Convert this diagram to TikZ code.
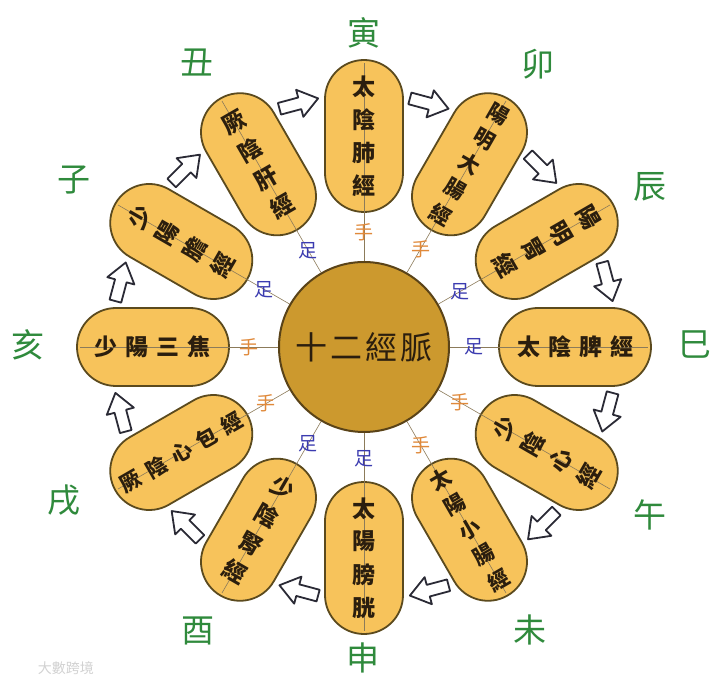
\documentclass[tikz,border=0pt]{standalone}
\usepackage{fontspec}
\newfontfamily\cjk{Noto Sans CJK TC}
\usetikzlibrary{shapes.misc}
\definecolor{petalfill}{HTML}{F7C35B}
\definecolor{petaledge}{HTML}{5B4A1E}
\definecolor{hubfill}{HTML}{CC992E}
\definecolor{hubedge}{HTML}{5A4318}
\definecolor{textdark}{HTML}{2B1E0E}
\definecolor{branchgreen}{HTML}{2F8A3C}
\definecolor{shouorange}{HTML}{E0893A}
\definecolor{zublue}{HTML}{3B3BB0}
\definecolor{arrowedge}{HTML}{2A2A35}
\definecolor{axisgray}{HTML}{8C7B5A}
\definecolor{wmgray}{HTML}{D2D2D2}
% #1 name letter, #2 petal angle, #3 glyph rotation, #4 reading direction,
% #5 spacing, #6 count, #7 chars, #8 glyph size
\newcommand\petalchars[8]{%
  \foreach \c [count=\i] in {#7}{%
    \pgfmathsetmacro\off{(\i-(#6+1)/2)*#5}%
    \node[pchar, font=\cjk\bfseries\fontsize{#8}{#8}\selectfont, rotate=#3]
      (t#1\i) at ([shift={(#2:211)}]#4:\off) {\c};
  }%
}
\begin{document}
\begin{tikzpicture}[x=1pt,y=1pt,
  petal/.style={rounded rectangle, draw=petaledge, fill=petalfill, line width=1.8pt,
    minimum width=152pt, minimum height=78pt, inner sep=0pt},
  hub/.style={circle, draw=hubedge, fill=hubfill, line width=2pt, minimum size=170pt,
    inner sep=0pt, text=textdark, font=\cjk\fontsize{32}{36}\selectfont},
  pchar/.style={inner sep=0pt, text=textdark},
  branch/.style={text=branchgreen, font=\cjk\fontsize{33}{38}\selectfont},
  shou/.style={text=shouorange, inner sep=1pt, font=\cjk\fontsize{19}{22}\selectfont},
  zu/.style={text=zublue, inner sep=1pt, font=\cjk\fontsize{19}{22}\selectfont},
  axis/.style={draw=axisgray, line width=0.6pt},
  flow/.style={draw=arrowedge, fill=white, line width=1.8pt, line join=round}
]
\useasboundingbox[fill=white] (-364,-335) rectangle (356,347);

% hub
\node[hub] (hub) at (0,0) {十\hspace{3pt}二\hspace{3pt}經\hspace{3pt}脈};

% petals
\node[petal, rotate=90]  (pA) at (90:211) {};
\node[petal, rotate=60]  (pB) at (60:211) {};
\node[petal, rotate=30]  (pC) at (30:211) {};
\node[petal, rotate=0]   (pD) at (0:211) {};
\node[petal, rotate=-30] (pE) at (-30:211) {};
\node[petal, rotate=-60] (pF) at (-60:211) {};
\node[petal, rotate=-90] (pG) at (-90:211) {};
\node[petal, rotate=-120] (pH) at (-120:211) {};
\node[petal, rotate=-150] (pI) at (-150:211) {};
\node[petal, rotate=180] (pJ) at (180:211) {};
\node[petal, rotate=150] (pK) at (150:211) {};
\node[petal, rotate=120] (pL) at (120:211) {};

% axis lines from hub through petals
\foreach \a/\n in {90/A,60/B,30/C,0/D,-30/E,-60/F,-90/G,-120/H,-150/I,180/J,150/K,120/L}{
  \coordinate (e\n) at (\a:284);
  \draw[axis] (hub.\a) -- (e\n);
}

% petal texts, one glyph per node
\petalchars{A}{90}{0}{-90}{33}{4}{太,陰,肺,經}{23}
\petalchars{B}{60}{-30}{-120}{29}{5}{陽,明,大,腸,經}{21}
\petalchars{C}{30}{-60}{-150}{32}{4}{陽,明,胃,經}{23}
\petalchars{D}{0}{0}{0}{31}{4}{太,陰,脾,經}{23}
\petalchars{E}{-30}{60}{-30}{32}{4}{少,陰,心,經}{23}
\petalchars{F}{-60}{30}{-60}{29}{5}{太,陽,小,腸,經}{21}
\petalchars{G}{-90}{0}{-90}{33}{4}{太,陽,膀,胱}{23}
\petalchars{H}{-120}{-30}{-120}{32}{4}{少,陰,腎,經}{23}
\petalchars{I}{-150}{30}{30}{29}{5}{厥,陰,心,包,經}{21}
\petalchars{J}{180}{0}{0}{31}{4}{少,陽,三,焦}{23}
\petalchars{K}{150}{60}{-30}{32}{4}{少,陽,膽,經}{23}
\petalchars{L}{120}{30}{-60}{32}{4}{厥,陰,肝,經}{23}

% hand / foot labels
\node[shou] (hA) at (90:115) {手};
\node[shou] (hB) at (60:113) {手};
\node[zu]   (hC) at (30:111) {足};
\node[zu]   (hD) at (0:110) {足};
\node[shou] (hE) at (-30:111) {手};
\node[shou] (hF) at (-60:113) {手};
\node[zu]   (hG) at (-90:112) {足};
\node[zu]   (hH) at (-120:112) {足};
\node[shou] (hI) at (-150:113) {手};
\node[shou] (hJ) at (180:115) {手};
\node[zu]   (hK) at (150:115) {足};
\node[zu]   (hL) at (120:111) {足};

% flow arrows between petals (clockwise)
\foreach \a in {105,75,45,15,-15,-45,-75,-105,-135,-165,165,135}{
  \pgfmathsetmacro{\d}{\a-90}
  \draw[flow, shift={(\a:252)}, rotate=\d]
    (-20,-6) -- (1,-6) -- (1,-14) -- (20,0) -- (1,14) -- (1,6) -- (-20,6) -- cycle;
}

% earthly branches
\node[branch] (bA) at (0,314) {寅};
\node[branch] (bB) at (174,283) {卯};
\node[branch] (bC) at (286,160) {辰};
\node[branch] (bD) at (331,2) {巳};
\node[branch] (bE) at (286,-168) {午};
\node[branch] (bF) at (166,-283) {未};
\node[branch] (bG) at (-1,-311) {申};
\node[branch] (bH) at (-166,-284) {酉};
\node[branch] (bI) at (-300,-153) {戌};
\node[branch] (bJ) at (-336,2) {亥};
\node[branch] (bK) at (-290,167) {子};
\node[branch] (bL) at (-167,284) {丑};

% watermark
\node[text=wmgray, font=\cjk\fontsize{14}{16}\selectfont] (wm) at (-298,-321) {大數跨境};
\end{tikzpicture}
\end{document}
